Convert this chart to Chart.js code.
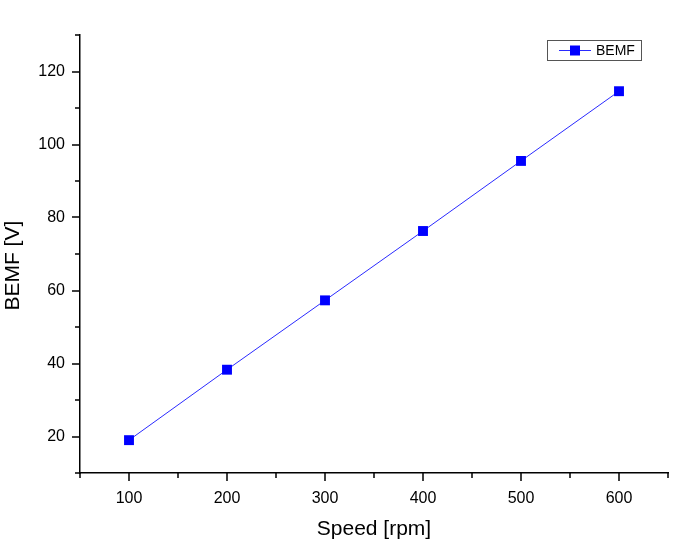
<!DOCTYPE html>
<html>
<head>
<meta charset="utf-8">
<script src="https://cdn.jsdelivr.net/npm/chart.js@4"></script>
<style>
  html, body { margin: 0; padding: 0; background: #fff; }
  #wrap { width: 698px; height: 551px; }
</style>
</head>
<body>
<div id="wrap"><canvas id="myChart"></canvas></div>
<script>
// dati
const speed = [100, 200, 300, 400, 500, 600];
const bemf = [19.0, 38.3, 57.3, 76.3, 95.5, 114.6];
const xTickLabels = [100, 200, 300, 400, 500, 600];
const yTickLabels = [20, 40, 60, 80, 100, 120];

const FONT = 'Arial, "Liberation Sans", sans-serif';

// tacche esterne stile Origin (lunghe sui valori con etichetta, corte sulle altre)
const originTicks = {
  id: 'originTicks',
  afterDraw(chart) {
    const ctx = chart.ctx;
    const xs = chart.scales.x, ys = chart.scales.y;
    ctx.save();
    ctx.strokeStyle = '#000';
    ctx.lineWidth = 1.5;
    ctx.beginPath();
    xs.ticks.forEach(t => {
      const px = Math.round(xs.getPixelForValue(t.value));
      const len = xTickLabels.includes(t.value) ? 8 : 5;
      ctx.moveTo(px, xs.top);
      ctx.lineTo(px, xs.top + len);
    });
    ys.ticks.forEach(t => {
      const py = Math.round(ys.getPixelForValue(t.value));
      const len = yTickLabels.includes(t.value) ? 8 : 5;
      ctx.moveTo(ys.right, py);
      ctx.lineTo(ys.right - len, py);
    });
    ctx.stroke();
    ctx.restore();
  }
};

// legenda con riquadro, in alto a destra
const boxLegend = {
  id: 'boxLegend',
  afterDraw(chart) {
    const ctx = chart.ctx;
    const area = chart.chartArea;
    const ds = chart.data.datasets[0];
    const x0 = area.right - 121, y0 = area.top + 5;
    ctx.save();
    ctx.strokeStyle = '#555';
    ctx.lineWidth = 1;
    ctx.strokeRect(x0 + 0.5, y0 + 0.5, 94, 20);
    const cy = y0 + 10.5;
    ctx.strokeStyle = ds.borderColor;
    ctx.beginPath();
    ctx.moveTo(x0 + 12, cy);
    ctx.lineTo(x0 + 44, cy);
    ctx.stroke();
    ctx.fillStyle = ds.pointBackgroundColor;
    ctx.fillRect(x0 + 23, cy - 5, 10, 10);
    ctx.fillStyle = '#000';
    ctx.font = '14px ' + FONT;
    ctx.textBaseline = 'middle';
    ctx.fillText(ds.label, x0 + 49, cy + 1);
    ctx.restore();
  }
};

const ctx = document.getElementById('myChart').getContext('2d');
const chart = new Chart(ctx, {
  type: 'line',
  data: {
    datasets: [{
      label: 'BEMF',
      data: speed.map((s, i) => ({ x: s, y: bemf[i] })),
      borderColor: '#2a2aff',
      borderWidth: 1,
      pointStyle: 'rect',
      pointRadius: 7,
      pointBorderWidth: 0,
      pointBackgroundColor: '#0000ff',
      pointBorderColor: '#0000ff',
      tension: 0
    }]
  },
  options: {
    responsive: true,
    maintainAspectRatio: false,
    animation: false,
    layout: { padding: { top: 35, right: 30, left: 0, bottom: 0 } },
    plugins: { legend: { display: false }, tooltip: { enabled: false } },
    scales: {
      x: {
        type: 'linear',
        min: 50,
        max: 650,
        afterFit: s => { s.height = 78; },
        grid: { display: false, drawTicks: false },
        border: { display: true, color: '#000', width: 1.5 },
        ticks: {
          stepSize: 50,
          autoSkip: false,
          maxRotation: 0,
          padding: 16,
          color: '#000',
          font: { family: FONT, size: 16 },
          callback: v => xTickLabels.includes(v) ? String(v) : ''
        },
        title: {
          display: true,
          text: 'Speed [rpm]',
          color: '#000',
          font: { family: FONT, size: 21 },
          padding: { top: 0, bottom: 9 }
        }
      },
      y: {
        type: 'linear',
        min: 10,
        max: 130,
        afterFit: s => { s.width = 80; },
        grid: { display: false, drawTicks: false },
        border: { display: true, color: '#000', width: 1.5 },
        ticks: {
          stepSize: 10,
          autoSkip: false,
          padding: 15,
          color: '#000',
          font: { family: FONT, size: 16 },
          callback: v => yTickLabels.includes(v) ? String(v) : ''
        },
        title: {
          display: true,
          text: 'BEMF [V]    ',
          color: '#000',
          font: { family: FONT, size: 21 },
          padding: { top: 1, bottom: 0 }
        }
      }
    }
  },
  plugins: [originTicks, boxLegend]
});
</script>
</body>
</html>
